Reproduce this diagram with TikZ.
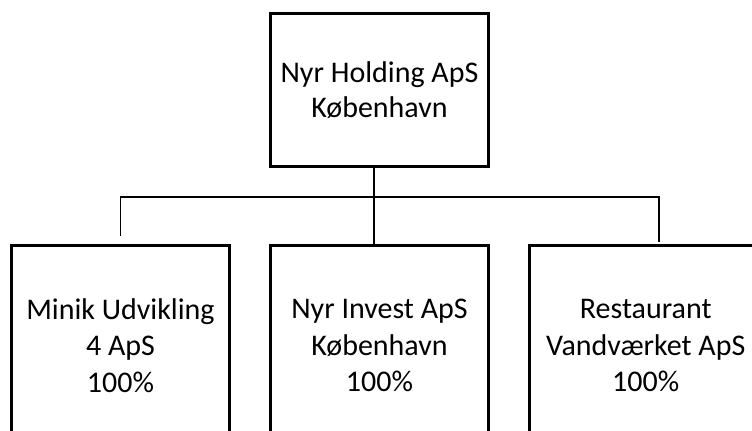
\documentclass[tikz,border=0pt]{standalone}
\usepackage{fontspec}
\setmainfont{Carlito}
\usetikzlibrary{calc}

\tikzset{
  orgbox/.style={draw, line width=2.25pt, inner sep=0pt, align=center,
    font=\fontsize{22.5}{26}\selectfont},
  topbox/.style={orgbox, minimum width=163.5pt, minimum height=114.75pt},
  subbox/.style={orgbox, minimum width=163.5pt, minimum height=150pt,
    font=\fontsize{22.5}{27.5}\selectfont},
  link/.style={line width=1pt}
}

\begin{document}
\begin{tikzpicture}[x=0.75pt,y=0.75pt,yscale=-1,xscale=1]
% page frame, 752 x 430 px
\clip (0,0) rectangle (752,430);
\fill[white] (0,0) rectangle (752,430);

% parent company
\node[topbox] (holding) at (379.5,90) {Nyr Holding ApS\\København};

% subsidiaries
\node[subbox] (minik) at (120.5,345.5) {Minik Udvikling\\4 ApS\\100\%};
\node[subbox] (invest) at (379.5,345.5) {Nyr Invest ApS\\København\\100\%};
\node[subbox, minimum width=174pt] (restaurant) at (645.75,345.5) {Restaurant\\Vandværket ApS\\100\%};

% connectors
\coordinate (bus) at (374,197);
\draw[link] ($(holding.south)+(-5.5,0)$) -- ($(invest.north)+(-5.5,0)$);
\draw[link] ($(minik.north)+(0,-8)$) |- (bus) -| ($(restaurant.north)+(13.25,-2)$);

\end{tikzpicture}
\end{document}
